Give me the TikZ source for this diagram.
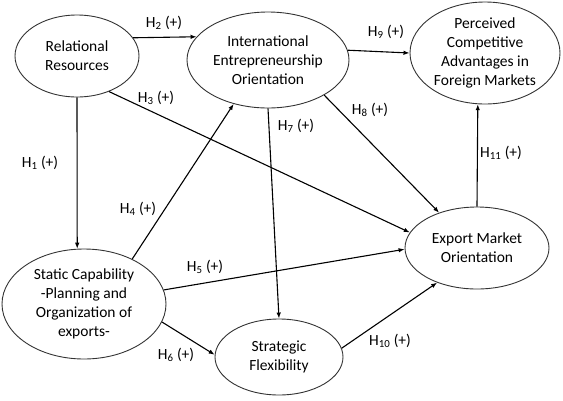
\documentclass[tikz,border=0pt]{standalone}
\usepackage{fontspec}
\setmainfont{Carlito}
\usetikzlibrary{arrows.meta,shapes.geometric}

\begin{document}
\begin{tikzpicture}[x=1pt,y=-1pt,
  construct/.style={ellipse,draw=black!80,line width=0.9pt,inner sep=0pt,align=center,font=\fontsize{15.5}{19}\selectfont},
  hyp/.style={font=\fontsize{15.5}{19}\selectfont},
  link/.style={line width=1.1pt,-{Latex[length=6pt,width=4.5pt]}}]
\useasboundingbox (0,0) rectangle (563,400);
%% Constructs
\node[construct,minimum width=124pt,minimum height=82pt] (rr) at (77,56) {Relational\\Resources};
\node[construct,minimum width=162pt,minimum height=96pt] (ieo) at (268,60) {International\\Entrepreneurship\\Orientation};
\node[construct,minimum width=150pt,minimum height=102pt] (pca) at (485,53) {Perceived\\Competitive\\Advantages in\\Foreign Markets};
\node[construct,minimum width=144pt,minimum height=82pt] (emo) at (477,248) {Export Market\\Orientation};
\node[construct,minimum width=164pt,minimum height=110pt] (sc) at (84,304) {Static Capability\\-Planning and\\Organization of\\exports-};
\node[construct,minimum width=128pt,minimum height=76pt] (sf) at (279,357) {Strategic\\Flexibility};
%% Hypotheses
\node[hyp] (h1) at (40,163) {H\textsubscript{1} (+)};
\node[hyp] (h2) at (164,23) {H\textsubscript{2} (+)};
\node[hyp] (h3) at (156,98) {H\textsubscript{3} (+)};
\node[hyp] (h4) at (138,209) {H\textsubscript{4} (+)};
\node[hyp] (h5) at (205,267) {H\textsubscript{5} (+)};
\node[hyp] (h6) at (176,355) {H\textsubscript{6} (+)};
\node[hyp] (h7) at (296,126) {H\textsubscript{7} (+)};
\node[hyp] (h8) at (370,110) {H\textsubscript{8} (+)};
\node[hyp] (h9) at (386,32) {H\textsubscript{9} (+)};
\node[hyp] (h10) at (390,341) {H\textsubscript{10} (+)};
\node[hyp] (h11) at (501,153) {H\textsubscript{11} (+)};
%% Paths
\draw[link] (rr.south) -- (sc.97);
\draw[link] (rr.18) -- (ieo.162);
\draw[link] (rr.-48) -- (emo.167);
\draw[link] (sc.43) -- (ieo.-128);
\draw[link] (sc.10) -- (emo.181);
\draw[link] (sc.-13) -- (sf.178);
\draw[link] (ieo.south) -- (sf.north);
\draw[link] (ieo.-32) -- (emo.137);
\draw[link] (ieo.7) -- (pca.west);
\draw[link] (sf.8) -- (emo.-139);
\draw[link] (emo.north) -- (pca.-98);
\end{tikzpicture}
\end{document}
